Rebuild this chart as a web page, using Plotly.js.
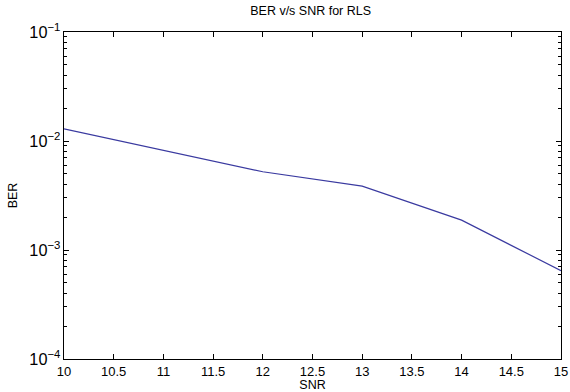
<!DOCTYPE html>
<html><head><meta charset="utf-8">
<script src="https://cdn.plot.ly/plotly-3.0.1.min.js"></script>
<style>body{margin:0;background:#fff}#c{width:570px;height:392px}</style>
</head><body><div id="c"></div>
<script>
const snr = [10, 11, 12, 13, 14, 15];
const ber = [0.0129, 0.00815, 0.00522, 0.00386, 0.00188, 0.000646];
const xTicks = [10, 10.5, 11, 11.5, 12, 12.5, 13, 13.5, 14, 14.5, 15];
const decades = [-4, -3, -2];
const minorDigits = [2, 3, 4, 5, 6, 7, 8, 9];
const minorVals = [];
decades.forEach(d => minorDigits.forEach(m => minorVals.push(m * Math.pow(10, d))));

const fam = 'Liberation Sans, Arial, sans-serif';
const f = (s) => ({family: fam, size: s, color: '#000'});
Plotly.newPlot('c', [{
  x: snr, y: ber, type: 'scatter', mode: 'lines',
  line: {color: '#3a3aa0', width: 1.2}
}, {
  x: snr, y: ber, type: 'scatter', mode: 'lines', yaxis: 'y2',
  line: {color: 'rgba(0,0,0,0)', width: 0}, hoverinfo: 'skip'
}], {
  width: 570, height: 392,
  margin: {l: 64, r: 9, t: 32, b: 33},
  paper_bgcolor: '#fff', plot_bgcolor: '#fff',
  font: f(12),
  showlegend: false,
  title: {text: 'BER v/s SNR for RLS', x: 0.545, xanchor: 'center', y: 0.985, yanchor: 'top', font: f(12.5)},
  xaxis: {
    range: [10, 15], tickvals: xTicks, ticktext: xTicks.map(String),
    ticks: 'inside', ticklen: 5, tickcolor: '#000', mirror: 'ticks',
    showline: true, linecolor: '#000', linewidth: 1, showgrid: false, zeroline: false,
    tickfont: f(13),
    title: {text: 'SNR', standoff: 3, font: f(12.5)}
  },
  yaxis: {
    type: 'log', range: [-4, -1], dtick: 1, exponentformat: 'power',
    ticks: 'inside', ticklen: 5, tickcolor: '#000', mirror: 'ticks',
    showline: true, linecolor: '#000', linewidth: 1, showgrid: false, zeroline: false,
    tickfont: f(13),
    title: {text: 'BER', standoff: 8, font: f(12.5)}
  },
  yaxis2: {
    type: 'log', range: [-4, -1], overlaying: 'y', side: 'left',
    tickmode: 'array', tickvals: minorVals, showticklabels: false,
    ticks: 'inside', ticklen: 3, tickcolor: '#000', mirror: 'ticks',
    showline: false, showgrid: false, zeroline: false
  }
}, {staticPlot: true});
</script></body></html>
